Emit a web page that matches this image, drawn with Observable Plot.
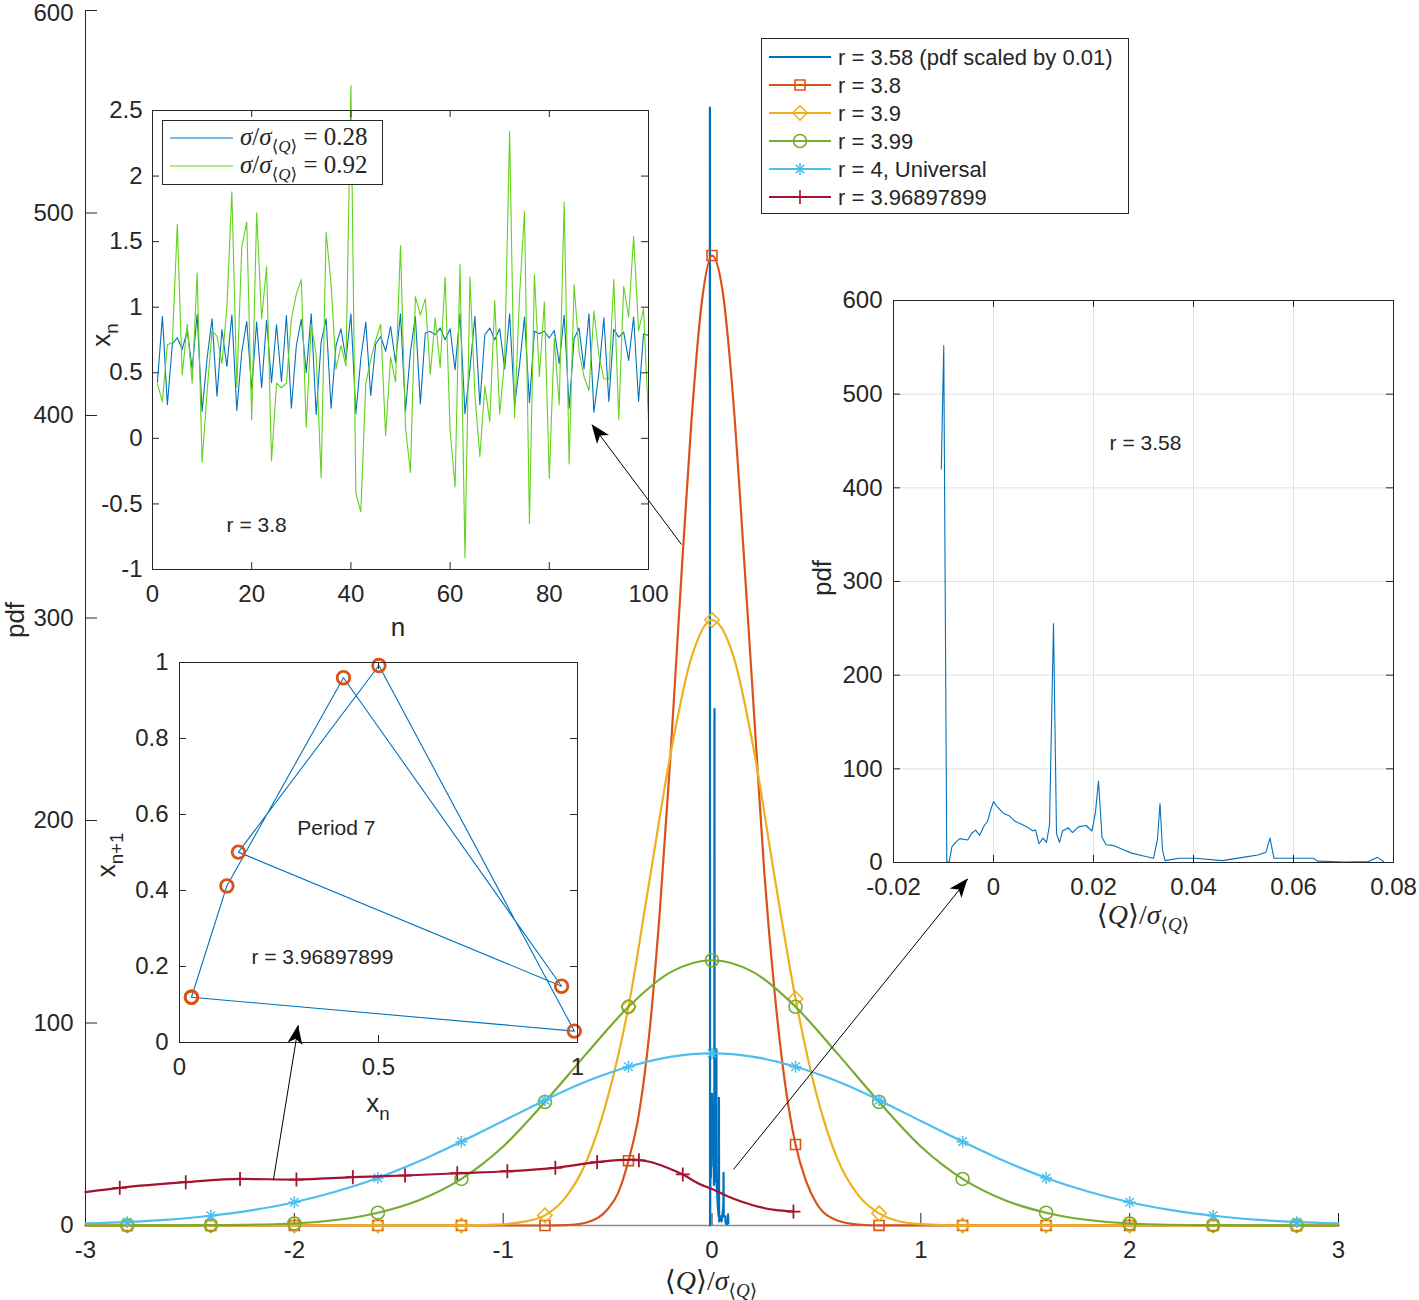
<!DOCTYPE html>
<html>
<head>
<meta charset="utf-8">
<title>pdf of the logistic-map average</title>
<script src="https://cdn.jsdelivr.net/npm/d3@7"></script>
<script src="https://cdn.jsdelivr.net/npm/@observablehq/plot@0.6"></script>
<style>
  html, body { margin: 0; padding: 0; background: #fff; }
  #fig { position: relative; width: 1419px; height: 1300px; overflow: hidden;
         font-family: "Liberation Sans", Arial, Helvetica, sans-serif; color: #262626; }
  .layer { position: absolute; }
  .layer svg { display: block; overflow: visible; max-width: none; }
  .lbl { position: absolute; white-space: nowrap; transform: translate(-50%, -50%); line-height: 1; }
  .rot { transform: translate(-50%, -50%) rotate(-90deg); }
  .tex { font-family: "Liberation Serif", "DejaVu Serif", serif; }
  .tex sub { font-size: 0.68em; vertical-align: -0.38em; line-height: 0; }
  .sans sub { font-size: 0.72em; vertical-align: -0.42em; line-height: 0; }
</style>
</head>
<body>
<div id="fig"></div>
<script>
// ---------- colours and fonts ----------
const INK = "#262626";
const FONT = "'Liberation Sans', Arial, Helvetica, sans-serif";
const C = {
  r358: "#0072BD", r38: "#D95319", r39: "#EDB120", r399: "#77AC30",
  r4: "#4DBEEE", p7: "#A2142F", noisy: "#62D21C"
};

// ---------- main axes: pdf of <Q>/sigma ----------
const mainXTicks = [-3, -2, -1, 0, 1, 2, 3];
const mainYTicks = [0, 100, 200, 300, 400, 500, 600];

// r = 3.58 (pdf scaled by 0.01), also shown in the zoomed panel
const pdf358X = [-0.01044, -0.00995, -0.00934, -0.00886, -0.0083, -0.0075, -0.00673, -0.00515, -0.0044, -0.00357,
  -0.00278, -0.002, -0.0012, -0.00057, 0, 0.0008, 0.002, 0.0031, 0.0043, 0.0055,
  0.0067, 0.0079, 0.0084, 0.0091, 0.0099, 0.0106, 0.0112, 0.012, 0.0126, 0.0132,
  0.0138, 0.015, 0.0158, 0.017, 0.0185, 0.0197, 0.0204, 0.021, 0.0217, 0.0225,
  0.0241, 0.026, 0.0276, 0.03, 0.032, 0.0328, 0.0333, 0.0338, 0.0343, 0.0371,
  0.0403, 0.0458, 0.0505, 0.0529, 0.0545, 0.0553, 0.0561, 0.06, 0.064, 0.0648,
  0.0703, 0.075, 0.0768, 0.078];
const pdf358Y = [420, 552, 0, 1, 17, 22, 25.5, 24, 31, 34.5,
  29, 38, 44, 56, 65, 59, 52.5, 50, 44, 41,
  38, 33.6, 35, 20, 26, 21.5, 40, 255, 31, 21.5,
  33.6, 37, 32, 38, 39.5, 33.6, 54, 87, 27, 19,
  18, 13.5, 10, 7, 4.5, 25, 63, 13.5, 2, 4.5,
  4.5, 2, 6, 8, 11, 26, 4.5, 4.5, 4.5, 1.5,
  0.5, 1, 5.5, 1];

// r = 3.8
const x38 = [-3, -0.8, -0.7, -0.6, -0.5, -0.45, -0.4, -0.35, -0.3, -0.25, -0.2, -0.15, -0.1, -0.05, 0,
  0.05, 0.1, 0.15, 0.2, 0.25, 0.3, 0.35, 0.4, 0.45, 0.5, 0.6, 0.7, 0.8, 3];
const y38 = [0, 0, 0.2, 1.5, 8, 16, 32, 55, 95, 155, 230, 315, 395, 455, 479,
  462, 410, 335, 255, 175, 115, 70, 40, 22, 11, 2.5, 0.5, 0.05, 0];

// r = 3.9
const x39 = [-3, -1.2, -1.0, -0.9, -0.8, -0.7, -0.6, -0.5, -0.4, -0.3, -0.2, -0.1, 0,
  0.1, 0.2, 0.3, 0.4, 0.5, 0.6, 0.7, 0.8, 0.9, 1.0, 1.2, 3];
const y39 = [0, 0.05, 0.6, 1.9, 5, 14, 32, 63, 108, 170, 232, 280, 299,
  282, 235, 172, 112, 65, 33, 15, 6, 2, 0.7, 0.05, 0];

// r = 3.99
const x399 = [-3, -2.8, -2.4, -2.0, -1.8, -1.6, -1.4, -1.2, -1.0, -0.8, -0.6, -0.4, -0.2, 0,
  0.2, 0.4, 0.6, 0.8, 1.0, 1.2, 1.4, 1.6, 1.8, 2.0, 2.4, 2.8, 3];
const y399 = [0, 0.02, 0.15, 1.0, 2.7, 6.3, 12.6, 23, 39, 61, 85, 108, 125, 131,
  125, 108, 85, 61, 39, 23, 12.6, 6.3, 2.7, 1.0, 0.15, 0.02, 0];

// r = 4, universal curve
const x4 = [-3, -2.8, -2.6, -2.4, -2.2, -2.0, -1.8, -1.6, -1.4, -1.2, -1.0, -0.8, -0.6, -0.4, -0.2, 0,
  0.2, 0.4, 0.6, 0.8, 1.0, 1.2, 1.4, 1.6, 1.8, 2.0, 2.2, 2.4, 2.6, 2.8, 3];
const y4 = [1.1, 1.7, 2.9, 4.8, 7.6, 11.5, 16.8, 23.5, 31.8, 41.4, 51.6, 61.9, 71.2, 78.4, 83.3, 85,
  83.3, 78.4, 71.2, 61.9, 51.6, 41.4, 31.8, 23.5, 16.8, 11.5, 7.6, 4.8, 2.9, 1.7, 1.1];

// r = 3.96897899 (period 7)
const xP7 = [-3, -2.836, -2.52, -2.26, -1.99, -1.72, -1.47, -1.22, -0.98, -0.75, -0.55, -0.45, -0.38,
  -0.3, -0.22, -0.14, -0.06, 0, 0.1, 0.2, 0.3, 0.39];
const yP7 = [16.5, 18.6, 21.4, 23, 22.7, 23.9, 24.7, 25.8, 26.8, 28.5, 31.3, 32.3, 32.5,
  31.5, 28.8, 25.2, 20.5, 18, 13.3, 9.9, 7.7, 6.9];

// marker positions
const xMarks = [-2.8, -2.4, -2.0, -1.6, -1.2, -0.8, -0.4, 0, 0.4, 0.8, 1.2, 1.6, 2.0, 2.4, 2.8];
const y38Marks = [0, 0, 0, 0, 0, 0, 32, 479, 40, 0.05, 0, 0, 0, 0, 0];
const y39Marks = [0, 0, 0, 0, 0.05, 5, 108, 299, 112, 6, 0.05, 0, 0, 0, 0];
const y399Marks = [0.02, 0.15, 1.0, 6.3, 23, 61, 108, 131, 108, 61, 23, 6.3, 1.0, 0.15, 0.02];
const y4Marks = [1.7, 4.8, 11.5, 23.5, 41.4, 61.9, 78.4, 85, 78.4, 61.9, 41.4, 23.5, 11.5, 4.8, 1.7];
const xP7Marks = [-2.836, -2.52, -2.26, -1.99, -1.72, -1.47, -1.22, -0.98, -0.75, -0.55, -0.35, -0.14, 0.39];
const yP7Marks = [18.6, 21.4, 23, 22.7, 23.9, 24.7, 25.8, 26.8, 28.5, 31.3, 32.2, 25.2, 6.9];

// ---------- inset: time series, r = 3.8 ----------
const tsXTicks = [0, 20, 40, 60, 80, 100];
const tsYTicks = [-1, -0.5, 0, 0.5, 1, 1.5, 2, 2.5];
const ts028 = [0.429, 0.93, 0.256, 0.72, 0.767, 0.68, 0.82, 0.53, 0.945, 0.205,
  0.607, 0.912, 0.322, 0.83, 0.548, 0.943, 0.213, 0.658, 0.89, 0.378,
  0.886, 0.386, 0.90, 0.424, 0.866, 0.434, 0.937, 0.23, 0.708, 0.907,
  0.50, 0.95, 0.182, 0.734, 0.912, 0.23, 0.708, 0.836, 0.60, 0.95,
  0.187, 0.607, 0.886, 0.327, 0.72, 0.777, 0.665, 0.853, 0.58, 0.95,
  0.205, 0.66, 0.928, 0.263, 0.803, 0.816, 0.79, 0.841, 0.752, 0.836,
  0.523, 0.95, 0.187, 0.53, 0.93, 0.256, 0.79, 0.841, 0.752, 0.836,
  0.53, 0.95, 0.25, 0.556, 0.925, 0.271, 0.816, 0.798, 0.816, 0.765,
  0.823, 0.569, 0.94, 0.23, 0.76, 0.841, 0.53, 0.95, 0.2, 0.5,
  0.92, 0.281, 0.831, 0.772, 0.81, 0.594, 0.925, 0.281, 0.798, 0.785];
const ts092 = [0.416, 0.28, 0.714, 0.73, 1.63, 0.485, 0.87, 0.42, 1.26, -0.18,
  0.35, 0.82, 0.78, 0.57, 1.0, 1.88, 0.39, 1.46, 1.65, 0.14,
  1.72, 0.91, 1.31, -0.17, 0.42, 0.386, 0.42, 0.91, 1.10, 1.21,
  0.085, 0.87, 0.64, -0.3, 1.57, 1.18, 0.53, 0.71, 0.55, 2.69,
  -0.42, -0.56, 0.42, 0.6, 0.75, 0.87, 0.02, 0.62, 0.43, 1.47,
  0.085, -0.26, 1.08, 0.94, 1.065, 0.49, 0.917, 0.54, 1.23, 0.06,
  -0.37, 1.33, -0.91, 1.23, 0.33, -0.14, 0.4, 0.13, 1.05, 0.187,
  0.6, 2.34, 0.157, 1.09, 1.73, -0.65, 1.25, 0.47, 1.04, -0.305,
  0.76, 0.255, 1.8, -0.195, 1.17, 0.66, 0.47, 0.365, 0.97, 0.63,
  0.455, 0.45, 1.21, 0.145, 1.16, 0.925, 1.54, 0.82, 0.99, 0.14];

// ---------- inset: period-7 return map ----------
const mapXTicks = [0, 0.5, 1];
const mapYTicks = [0, 0.2, 0.4, 0.6, 0.8, 1];
const orbitXn = [0.030, 0.119, 0.412, 0.960, 0.148, 0.501, 0.992, 0.030];
const orbitXn1 = [0.119, 0.412, 0.960, 0.148, 0.501, 0.992, 0.030, 0.119];

// ---------- inset: zoom on r = 3.58 ----------
const zXTicks = [-0.02, 0, 0.02, 0.04, 0.06, 0.08];
const zYTicks = [0, 100, 200, 300, 400, 500, 600];

// ---------- arrows (main data coordinates) ----------
const arrowFromX = [-0.146, -2.100, 0.103];
const arrowFromY = [336.3, 22.7, 27.7];
const arrowToX = [-0.574, -1.980, 1.226];
const arrowToY = [395.4, 98.8, 171.1];

// ---------- helpers ----------
const fig = document.getElementById("fig");
const fmt = d => String(d);
const rows = (xs, ys) => xs.map((x, i) => ({x, y: ys[i]}));
const baseStyle = {fontFamily: FONT, fontSize: "24px", color: INK, background: "transparent", overflow: "visible"};

// marker sizes (radius passed to the symbol)
const R = {square: 5.6, diamond: 6.5, circle: 6.5, starPlus: 3.9, starTimes: 3.9, plus: 4.6};

function place(node, left, top, w, h) {
  const d = document.createElement("div");
  d.className = "layer";
  Object.assign(d.style, {left: left + "px", top: top + "px", width: w + "px", height: h + "px"});
  d.appendChild(node);
  fig.appendChild(d);
  return d;
}
function label(html, x, y, size, cls = "", rotate = false) {
  const d = document.createElement("div");
  d.className = "lbl " + cls + (rotate ? " rot" : "");
  d.style.left = x + "px"; d.style.top = y + "px"; d.style.fontSize = size + "px";
  d.innerHTML = html;
  fig.appendChild(d);
}
// MATLAB-style ticks pointing into the axes box
function inwardTicks(xt, yt, fw, fh, len, allSides) {
  const m = [
    Plot.ruleX(xt, {stroke: INK, insetTop: fh - len}),
    Plot.ruleY(yt, {stroke: INK, insetRight: fw - len})
  ];
  if (allSides) m.push(
    Plot.ruleX(xt, {stroke: INK, insetBottom: fh - len}),
    Plot.ruleY(yt, {stroke: INK, insetLeft: fw - len})
  );
  return m;
}
const mainLine = (xs, ys, color) => Plot.line(rows(xs, ys), {x: "x", y: "y", stroke: color, strokeWidth: 2.2, curve: "monotone-x"});
const marks = (xs, ys, color, symbol, r, sw = 1.6) =>
  Plot.dot(rows(xs, ys), {x: "x", y: "y", symbol, r, stroke: color, strokeWidth: sw, fill: "none"});

// ---------- main plot ----------
const MW = 1419, MH = 1300, ML = 85, MR = 81, MT = 10, MB = 75;
const mainFW = MW - ML - MR, mainFH = MH - MT - MB;
const yTop = mainYTicks[mainYTicks.length - 1];
const main = Plot.plot({
  width: MW, height: MH, marginLeft: ML, marginRight: MR, marginTop: MT, marginBottom: MB,
  x: {domain: [-3, 3]}, y: {domain: [0, 600]},
  style: baseStyle,
  marks: [
    Plot.ruleY([0], {stroke: "#8c8c8c", strokeWidth: 1.3}),
    Plot.ruleX([-3], {stroke: INK}),
    Plot.ruleX(mainXTicks, {stroke: INK, insetTop: mainFH - 12}),
    Plot.ruleY(mainYTicks, {stroke: INK, insetRight: mainFW - 12}),
    Plot.axisX({ticks: mainXTicks, tickSize: 0, tickPadding: 15, tickFormat: fmt, label: null}),
    Plot.axisY({ticks: mainYTicks.filter(t => t !== yTop), tickSize: 0, tickPadding: 12, tickFormat: fmt, label: null}),
    // the top label sits at the very edge of the figure; nudge it just inside
    Plot.axisY({ticks: [yTop], tickSize: 0, tickPadding: 12, tickFormat: fmt, label: null, dy: 3}),

    Plot.line(rows(pdf358X, pdf358Y), {x: "x", y: "y", stroke: C.r358, strokeWidth: 2.2}),
    mainLine(x38, y38, C.r38),
    marks(xMarks, y38Marks, C.r38, "square", R.square),
    mainLine(x39, y39, C.r39),
    marks(xMarks, y39Marks, C.r39, "diamond2", R.diamond),
    mainLine(x399, y399, C.r399),
    marks(xMarks, y399Marks, C.r399, "circle", R.circle),
    mainLine(x4, y4, C.r4),
    marks(xMarks, y4Marks, C.r4, "plus", R.starPlus, 1.5),
    marks(xMarks, y4Marks, C.r4, "times", R.starTimes, 1.5),
    mainLine(xP7, yP7, C.p7),
    marks(xP7Marks, yP7Marks, C.p7, "plus", R.plus, 1.8)
  ]
});
place(main, 0, 0, MW, MH);

// ---------- inset: time series ----------
const tsW = 575, tsH = 575, tsL = 60, tsR = 19, tsT = 30, tsB = 86;
const ts = Plot.plot({
  width: tsW, height: tsH, marginLeft: tsL, marginRight: tsR, marginTop: tsT, marginBottom: tsB,
  x: {domain: [0, 100]}, y: {domain: [-1, 2.5]},
  style: baseStyle,
  marks: [
    Plot.frame({fill: "white", stroke: "none"}),
    Plot.line(ts028, {x: (d, i) => i + 1, y: d => d, stroke: C.r358, strokeWidth: 1.1}),
    Plot.line(ts092, {x: (d, i) => i + 1, y: d => d, stroke: C.noisy, strokeWidth: 1.1}),
    ...inwardTicks(tsXTicks, tsYTicks, tsW - tsL - tsR, tsH - tsT - tsB, 7, true),
    Plot.frame({stroke: INK}),
    Plot.axisX({ticks: tsXTicks, tickSize: 0, tickPadding: 15, tickFormat: fmt, label: null}),
    Plot.axisY({ticks: tsYTicks, tickSize: 0, tickPadding: 10, tickFormat: fmt, label: null}),
    Plot.text([{x: 21, y: -0.66, t: "r = 3.8"}], {x: "x", y: "y", text: "t", fontSize: 21, fill: INK})
  ]
});
place(ts, 92, 80, tsW, tsH);

// ---------- inset: period-7 return map ----------
const mpW = 505, mpH = 490, mpL = 84, mpR = 23, mpT = 17, mpB = 93;
const map = Plot.plot({
  width: mpW, height: mpH, marginLeft: mpL, marginRight: mpR, marginTop: mpT, marginBottom: mpB,
  x: {domain: [0, 1]}, y: {domain: [0, 1]},
  style: baseStyle,
  marks: [
    Plot.frame({fill: "white", stroke: "none"}),
    Plot.line(rows(orbitXn, orbitXn1), {x: "x", y: "y", stroke: C.r358, strokeWidth: 1.1}),
    Plot.dot(rows(orbitXn, orbitXn1), {x: "x", y: "y", r: 6.3, stroke: C.r38, strokeWidth: 2.8, fill: "none"}),
    ...inwardTicks(mapXTicks, mapYTicks, mpW - mpL - mpR, mpH - mpT - mpB, 7, true),
    Plot.frame({stroke: INK}),
    Plot.axisX({ticks: mapXTicks, tickSize: 0, tickPadding: 15, tickFormat: fmt, label: null}),
    Plot.axisY({ticks: mapYTicks, tickSize: 0, tickPadding: 11, tickFormat: fmt, label: null}),
    Plot.text([{x: 0.394, y: 0.563, t: "Period 7"}, {x: 0.359, y: 0.224, t: "r = 3.96897899"}],
      {x: "x", y: "y", text: "t", fontSize: 21, fill: INK})
  ]
});
place(map, 95, 645, mpW, mpH);

// ---------- inset: zoom on r = 3.58 ----------
const zW = 604, zH = 660, zL = 78, zR = 26, zT = 15, zB = 83;
const zoomed = Plot.plot({
  width: zW, height: zH, marginLeft: zL, marginRight: zR, marginTop: zT, marginBottom: zB,
  x: {domain: [-0.02, 0.08]}, y: {domain: [0, 600]},
  style: baseStyle,
  marks: [
    Plot.frame({fill: "white", stroke: "none"}),
    Plot.ruleX(zXTicks, {stroke: "#e2e2e2"}),
    Plot.ruleY(zYTicks, {stroke: "#e2e2e2"}),
    Plot.line(rows(pdf358X, pdf358Y), {x: "x", y: "y", stroke: C.r358, strokeWidth: 1.1}),
    ...inwardTicks(zXTicks, zYTicks, zW - zL - zR, zH - zT - zB, 7, true),
    Plot.frame({stroke: INK}),
    Plot.axisX({ticks: zXTicks, tickSize: 0, tickPadding: 15, tickFormat: fmt, label: null}),
    Plot.axisY({ticks: zYTicks, tickSize: 0, tickPadding: 11, tickFormat: fmt, label: null}),
    Plot.text([{x: 0.0304, y: 448, t: "r = 3.58"}], {x: "x", y: "y", text: "t", fontSize: 21, fill: INK})
  ]
});
place(zoomed, 815, 285, zW, zH);

// ---------- arrows, on top of everything ----------
const arrowRows = arrowFromX.map((x, i) => ({x1: x, y1: arrowFromY[i], x2: arrowToX[i], y2: arrowToY[i]}));
const over = Plot.plot({
  width: MW, height: MH, marginLeft: ML, marginRight: MR, marginTop: MT, marginBottom: MB,
  x: {domain: [-3, 3], axis: null}, y: {domain: [0, 600], axis: null},
  style: {background: "transparent", overflow: "visible"},
  marks: [Plot.link(arrowRows, {x1: "x1", y1: "y1", x2: "x2", y2: "y2", stroke: "black", strokeWidth: 1})]
});
{
  const sx = over.scale("x"), sy = over.scale("y");
  const g = d3.select(over).append("g");
  for (const a of arrowRows) {
    const x0 = sx.apply(a.x1), y0 = sy.apply(a.y1), x1 = sx.apply(a.x2), y1 = sy.apply(a.y2);
    const len = Math.hypot(x1 - x0, y1 - y0), ux = (x1 - x0) / len, uy = (y1 - y0) / len;
    const nx = -uy, ny = ux, H = 19, W = 7.5, N = 14;
    const pts = [[x1, y1], [x1 - H * ux + W * nx, y1 - H * uy + W * ny], [x1 - N * ux, y1 - N * uy],
      [x1 - H * ux - W * nx, y1 - H * uy - W * ny]];
    g.append("path").attr("d", "M" + pts.map(p => p.join(",")).join("L") + "Z").attr("fill", "black");
  }
}
const overDiv = place(over, 0, 0, MW, MH);
overDiv.style.pointerEvents = "none";

// ---------- main legend ----------
{
  const entries = [
    {c: C.r358, sym: null, t: "r = 3.58 (pdf scaled by 0.01)"},
    {c: C.r38, sym: [[d3.symbolSquare, R.square]], t: "r = 3.8"},
    {c: C.r39, sym: [[d3.symbolDiamond2, R.diamond]], t: "r = 3.9"},
    {c: C.r399, sym: [[d3.symbolCircle, R.circle]], t: "r = 3.99"},
    {c: C.r4, sym: [[d3.symbolPlus, R.starPlus], [d3.symbolTimes, R.starTimes]], t: "r = 4, Universal"},
    {c: C.p7, sym: [[d3.symbolPlus, R.plus]], t: "r = 3.96897899"}
  ];
  const svg = d3.create("svg").attr("width", 368).attr("height", 176)
    .style("font-family", FONT).style("font-size", "22px");
  svg.append("rect").attr("x", 0.5).attr("y", 0.5).attr("width", 367).attr("height", 175)
    .attr("fill", "white").attr("stroke", INK);
  entries.forEach((e, i) => {
    const cy = 19 + 28 * i;
    svg.append("line").attr("x1", 8).attr("x2", 70).attr("y1", cy).attr("y2", cy)
      .attr("stroke", e.c).attr("stroke-width", 2.2);
    if (e.sym) for (const [type, r] of e.sym) {
      svg.append("path").attr("d", d3.symbol(type, Math.PI * r * r)())
        .attr("transform", `translate(39,${cy})`).attr("fill", "none").attr("stroke", e.c).attr("stroke-width", 1.6);
    }
    svg.append("text").attr("x", 77).attr("y", cy).attr("dy", "0.35em").attr("fill", INK).text(e.t);
  });
  place(svg.node(), 761, 38, 368, 176);
}

// ---------- time-series legend ----------
{
  const box = document.createElement("div");
  Object.assign(box.style, {position: "absolute", left: "162px", top: "120px", width: "219px", height: "63px",
    background: "white", border: "1px solid " + INK});
  const svg = d3.create("svg").attr("width", 219).attr("height", 63).style("position", "absolute").style("left", "0").style("top", "0");
  [[C.r358, 17], [C.noisy, 45]].forEach(([c, y]) =>
    svg.append("line").attr("x1", 7).attr("x2", 70).attr("y1", y).attr("y2", y).attr("stroke", c).attr("stroke-width", 1.1));
  box.appendChild(svg.node());
  ["0.28", "0.92"].forEach((v, i) => {
    const t = document.createElement("div");
    t.className = "tex";
    Object.assign(t.style, {position: "absolute", left: "77px", top: (17 + 28 * i) + "px", transform: "translateY(-55%)",
      fontSize: "25px", whiteSpace: "nowrap", lineHeight: "1", color: INK});
    t.innerHTML = `<i>σ</i>/<i>σ</i><sub>⟨<i>Q</i>⟩</sub> = ${v}`;
    box.appendChild(t);
  });
  fig.appendChild(box);
}

// ---------- axis titles ----------
const qLabel = "⟨<i>Q</i>⟩/<i>σ</i><sub>⟨<i>Q</i>⟩</sub>";
label("pdf", 15, 620, 26, "", true);
label(qLabel, 711, 1281, 28, "tex");
label("n", 398, 627, 26);
label("x<sub>n</sub>", 101, 335, 26, "sans", true);
label("x<sub>n</sub>", 378, 1103, 26, "sans");
label("x<sub>n+1</sub>", 106, 855, 26, "sans", true);
label("pdf", 822, 578, 26, "", true);
label(qLabel, 1143, 915, 28, "tex");
</script>
</body>
</html>
